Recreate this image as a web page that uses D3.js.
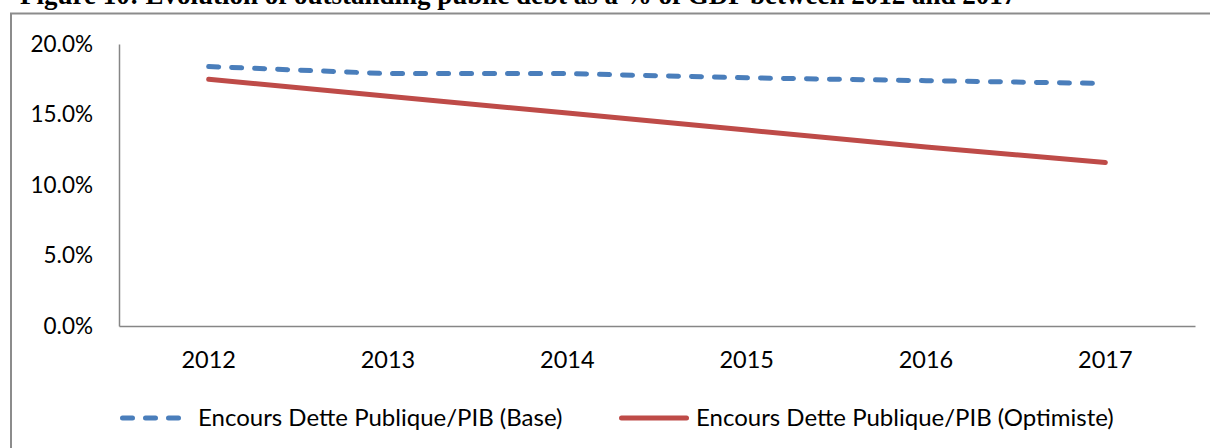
<!DOCTYPE html>
<html>
<head>
<meta charset="utf-8">
<script src="https://cdn.jsdelivr.net/npm/d3@7"></script>
<style>
  html, body { margin: 0; padding: 0; background: #fff; }
  svg { display: block; }
</style>
</head>
<body>
<svg id="chart" width="1210" height="448"></svg>
<script>
// Outstanding public debt as a share of GDP, two scenarios
const years = ["2012", "2013", "2014", "2015", "2016", "2017"];
const baseValues = [0.184, 0.179, 0.179, 0.176, 0.174, 0.172];
const optimisticValues = [0.175, 0.163, 0.151, 0.139, 0.127, 0.116];
const yTicks = [0, 0.05, 0.10, 0.15, 0.20];
const seriesNames = [
  "Encours Dette Publique/PIB (Base)",
  "Encours Dette Publique/PIB (Optimiste)"
];
const titleText = "Figure 10: Evolution of outstanding public debt as a % of GDP between 2012 and 2017";

const svg = d3.select("#chart");
const font = "Lato, 'Open Sans', sans-serif";
const blue = "#4a7ebb";
const red = "#be4b48";
const axisGrey = "#868686";

// Caption, sitting above the frame at the page's top edge
svg.append("text")
  .attr("x", 20).attr("y", 4)
  .attr("font-family", "'Liberation Serif', 'Times New Roman', serif")
  .attr("font-weight", "bold")
  .attr("font-size", 27)
  .attr("fill", "#000")
  .text(titleText);

// Chart frame
svg.append("rect")
  .attr("x", 11).attr("y", 13.5)
  .attr("width", 1220).attr("height", 460)
  .attr("fill", "none")
  .attr("stroke", "#8c8c8c")
  .attr("stroke-width", 2);

const plot = { left: 119, right: 1195, top: 44, bottom: 326 };

const x = d3.scaleBand().domain(years).range([plot.left, plot.right]);
const y = d3.scaleLinear().domain([0, 0.20]).range([plot.bottom, plot.top]);

// Y axis
const yAxis = svg.append("g")
  .attr("transform", `translate(${plot.left},0)`)
  .call(d3.axisLeft(y).tickValues(yTicks).tickFormat(d3.format(".1%")).tickSize(0).tickPadding(26));
yAxis.select(".domain").attr("stroke", axisGrey).attr("stroke-width", 1.5);
yAxis.selectAll("text")
  .attr("font-family", font).attr("font-size", 22.5).attr("fill", "#000");

// X axis
const xAxis = svg.append("g")
  .attr("transform", `translate(0,${plot.bottom})`)
  .call(d3.axisBottom(x).tickSize(0).tickPadding(25));
xAxis.select(".domain").attr("stroke", axisGrey).attr("stroke-width", 1.5);
xAxis.selectAll("text")
  .attr("font-family", font).attr("font-size", 23.5).attr("fill", "#000");

const cx = d => x(d) + x.bandwidth() / 2;
const line = d3.line().x((d, i) => cx(years[i])).y(d => y(d));

svg.append("path")
  .datum(optimisticValues)
  .attr("d", line)
  .attr("fill", "none")
  .attr("stroke", red)
  .attr("stroke-width", 5)
  .attr("stroke-linecap", "round")
  .attr("stroke-linejoin", "round");

svg.append("path")
  .datum(baseValues)
  .attr("d", line)
  .attr("fill", "none")
  .attr("stroke", blue)
  .attr("stroke-width", 5)
  .attr("stroke-dasharray", "10,13")
  .attr("stroke-linecap", "round")
  .attr("stroke-linejoin", "round");

// Legend
const legendY = 418;
const legendItems = [
  { name: seriesNames[0], color: blue, dash: "10,13", x0: 122.5, x1: 179.5, tx: 198 },
  { name: seriesNames[1], color: red, dash: null, x0: 621.5, x1: 686.5, tx: 696 }
];
const legend = svg.append("g");
legendItems.forEach(item => {
  legend.append("line")
    .attr("x1", item.x0).attr("x2", item.x1)
    .attr("y1", legendY).attr("y2", legendY)
    .attr("stroke", item.color)
    .attr("stroke-width", 5)
    .attr("stroke-linecap", "round")
    .attr("stroke-dasharray", item.dash);
  legend.append("text")
    .attr("x", item.tx).attr("y", legendY)
    .attr("dy", "0.35em")
    .attr("font-family", font).attr("font-size", 24)
    .attr("fill", "#000")
    .text(item.name);
});
</script>
</body>
</html>
